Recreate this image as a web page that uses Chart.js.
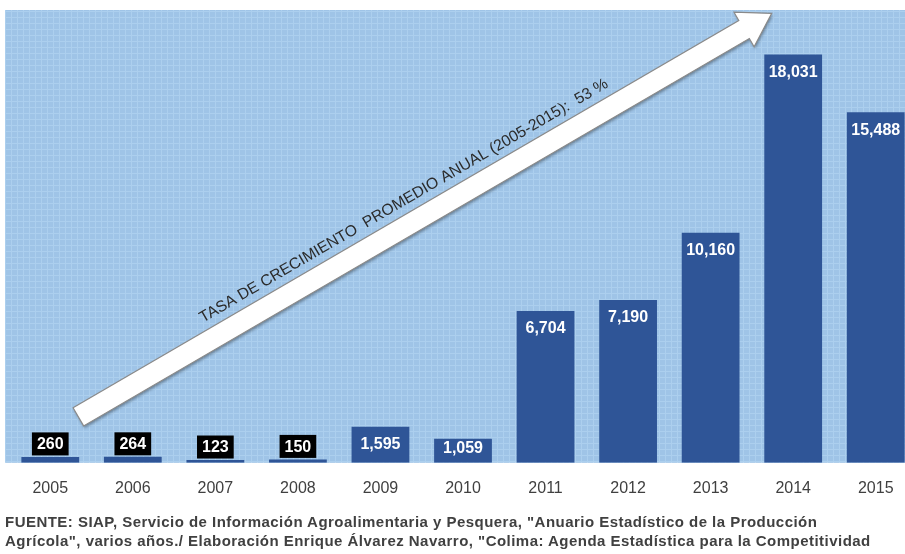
<!DOCTYPE html>
<html>
<head>
<meta charset="utf-8">
<script src="https://cdn.jsdelivr.net/npm/chart.js@4.4.1/dist/chart.umd.min.js"></script>
<style>
 html,body{margin:0;padding:0;background:#fff;overflow:hidden;}
 #wrap{position:absolute;left:0;top:0;width:920px;height:554px;}
 .src{position:absolute;left:5px;font:bold 15px "Liberation Sans",Arial,sans-serif;letter-spacing:0.47px;color:#404040;white-space:nowrap;}
</style>
</head>
<body>
<div id="wrap">
 <canvas id="chart" width="920" height="554"></canvas>
 <div class="src" style="top:513px">FUENTE: SIAP, Servicio de Información Agroalimentaria y Pesquera, "Anuario Estadístico de la Producción</div>
 <div class="src" style="top:532px">Agrícola", varios años./ Elaboración Enrique Álvarez Navarro, "Colima: Agenda Estadística para la Competitividad</div>
</div>
<script>
const years=['2005','2006','2007','2008','2009','2010','2011','2012','2013','2014','2015'];
const values=[260,264,123,150,1595,1059,6704,7190,10160,18031,15488];
const valueLabels=['260','264','123','150','1,595','1,059','6,704','7,190','10,160','18,031','15,488'];
const growthNote='TASA DE CRECIMIENTO  PROMEDIO ANUAL (2005-2015):  53 %';

const BAR='#2f5597';

// light blue plot background with a fine grid texture
function gridPattern(ctx){
 const p=document.createElement('canvas');
 p.width=6;p.height=6;
 const c=p.getContext('2d');
 c.fillStyle='#9fc4e7';c.fillRect(0,0,6,6);
 c.fillStyle='#accfee';
 c.fillRect(5,0,1,6);c.fillRect(0,5,6,1);
 return ctx.createPattern(p,'repeat');
}

const plotBg={
 id:'plotBg',
 beforeDraw(chart){
  const {ctx,chartArea:a}=chart;
  ctx.save();
  ctx.fillStyle=gridPattern(ctx);
  ctx.fillRect(a.left-4,a.top,a.right-a.left+4,a.bottom-a.top);
  ctx.restore();
 }
};

const arrow={
 id:'arrow',
 afterDatasetsDraw(chart){
  const {ctx,scales:{x,y}}=chart;
  const x0=x.getPixelForValue(0.34),y0=y.getPixelForValue(2030);
  const x1=x.getPixelForValue(8.74),y1=y.getPixelForValue(19850);
  const ang=Math.atan2(y1-y0,x1-x0);
  const L=Math.hypot(x1-x0,y1-y0);
  const hw=10.5,hl=32,hh=20;
  ctx.save();
  ctx.translate(x0,y0);
  ctx.rotate(ang);
  ctx.beginPath();
  ctx.moveTo(0,-hw);ctx.lineTo(L-hl,-hw);ctx.lineTo(L-hl,-hh);
  ctx.lineTo(L,0);
  ctx.lineTo(L-hl,hh);ctx.lineTo(L-hl,hw);ctx.lineTo(0,hw);
  ctx.closePath();
  ctx.shadowColor='rgba(0,0,0,0.35)';
  ctx.shadowBlur=3;ctx.shadowOffsetX=1;ctx.shadowOffsetY=2;
  ctx.fillStyle='#ffffff';
  ctx.fill();
  ctx.shadowColor='transparent';
  ctx.strokeStyle='#8a8a8a';
  ctx.lineWidth=1.2;
  ctx.stroke();
  // rotated note above the shaft, fitted to its span
  let fs=14;
  ctx.font=fs+'px "Liberation Sans",Arial,sans-serif';
  const w=ctx.measureText(growthNote).width;
  fs=fs*470/w;
  ctx.font=fs+'px "Liberation Sans",Arial,sans-serif';
  ctx.fillStyle='#2b2b2b';
  ctx.textAlign='center';
  ctx.textBaseline='alphabetic';
  ctx.fillText(growthNote,390,-hw-8);
  ctx.restore();
 }
};

const barLabels={
 id:'barLabels',
 afterDatasetsDraw(chart){
  const {ctx,scales:{y}}=chart;
  const meta=chart.getDatasetMeta(0);
  const base=y.getPixelForValue(0);
  ctx.save();
  ctx.font='bold 16px "Liberation Sans",Arial,sans-serif';
  ctx.textAlign='center';
  ctx.textBaseline='middle';
  meta.data.forEach((bar,i)=>{
   const t=valueLabels[i];
   if(values[i]<1000){
    const tw=ctx.measureText(t).width+10;
    const bh=23,bottom=bar.y-1.5;
    ctx.fillStyle='#000';
    ctx.fillRect(bar.x-tw/2,bottom-bh,tw,bh);
    ctx.fillStyle='#fff';
    ctx.fillText(t,bar.x,bottom-bh/2+1);
   }else{
    ctx.fillStyle='#fff';
    ctx.fillText(t,bar.x,Math.min(bar.y+18,base-14));
   }
  });
  ctx.restore();
 }
};

new Chart(document.getElementById('chart'),{
 type:'bar',
 data:{labels:years,datasets:[{data:values,backgroundColor:BAR,borderWidth:0,
  categoryPercentage:1,barPercentage:0.7}]},
 options:{
  responsive:false,
  animation:false,
  layout:{padding:{left:9,right:3,top:10,bottom:40}},
  plugins:{legend:{display:false},tooltip:{enabled:false}},
  scales:{
   x:{grid:{display:false,drawTicks:false},border:{display:false},
      ticks:{padding:16,color:'#404040',font:{family:'"Liberation Sans",Arial,sans-serif',size:16}}},
   y:{display:false,min:0,max:20000}
  }
 },
 plugins:[plotBg,arrow,barLabels]
});
</script>
</body>
</html>
